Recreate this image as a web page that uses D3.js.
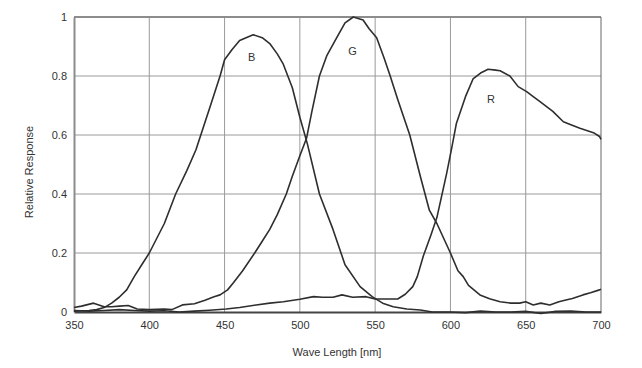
<!DOCTYPE html>
<html>
<head>
<meta charset="utf-8">
<script src="https://cdn.jsdelivr.net/npm/d3@7"></script>
<style>
html,body{margin:0;padding:0;background:#fff;}
svg{display:block;font-family:"Liberation Sans",Arial,sans-serif;}
</style>
</head>
<body>
<svg id="chart" width="642" height="368"></svg>
<script>
// ---- data ----
const xTicks = [350,400,450,500,550,600,650,700];
const yTicks = [0,0.2,0.4,0.6,0.8,1];
const yTickLabels = ["0","0.2","0.4","0.6","0.8","1"];
const xTitle = "Wave Length [nm]";
const yTitle = "Relative Response";

const bWave = [350,360,365,370,375,380,385,390,395,400,410,417.5,425,431,440,447,450,455,460,469,475,480,485,489,495,500,505,513,522,530,540,548,555,562,571,580,588,600,610,620,630,640,650,660,670,680,690,700];
const bVal  = [0.003,0.005,0.008,0.015,0.03,0.05,0.075,0.12,0.16,0.2,0.3,0.4,0.48,0.55,0.69,0.8,0.855,0.89,0.92,0.94,0.93,0.91,0.875,0.84,0.76,0.66,0.57,0.4,0.28,0.16,0.086,0.052,0.03,0.018,0.01,0.007,0.0,0.0,-0.002,0.003,0.0,0.0,0.002,-0.005,0.002,0.003,0.0,0.0];

const gWave = [350,355,363,370,375,380,386,392,400,410,415,422,430,437,443,447,452,456,462,470,475,480,485,491,495,500,504.5,508,513,518,524.5,530,535.5,542,546,551,556,560,565,569,573,580,586,591,600,605,608.5,612,619.6,626,633,640,646,650,655,660,666,672,676,681,688,693,699,700];
const gVal  = [0.015,0.02,0.03,0.018,0.018,0.02,0.022,0.01,0.008,0.01,0.008,0.024,0.028,0.04,0.052,0.058,0.075,0.1,0.14,0.2,0.24,0.28,0.33,0.4,0.46,0.53,0.59,0.68,0.8,0.87,0.93,0.98,1.0,0.99,0.96,0.93,0.86,0.8,0.72,0.66,0.6,0.46,0.345,0.3,0.2,0.14,0.12,0.09,0.058,0.045,0.035,0.03,0.03,0.035,0.024,0.03,0.024,0.035,0.04,0.046,0.058,0.065,0.075,0.077];

const rWave = [350,360,370,380,390,400,410,420,430,440,451,460,471,480,489,500,509,515,522,528,535,544,550,565,570,575,578,582,587,591,597.5,601,604,610,615,620,625,630,633,639.5,645,650.6,655,659.5,668,675,680,686,695,699,700];
const rVal  = [0.005,0.003,0.005,0.008,0.005,0.003,0.004,0.0,0.003,0.006,0.01,0.015,0.024,0.03,0.035,0.043,0.052,0.05,0.05,0.058,0.05,0.052,0.044,0.044,0.06,0.086,0.12,0.19,0.26,0.32,0.47,0.56,0.64,0.73,0.79,0.81,0.823,0.82,0.818,0.8,0.764,0.747,0.73,0.713,0.68,0.645,0.635,0.623,0.608,0.595,0.585];

const curveLabels = ["B","G","R"];
const labelWave = [468,535,627];
const labelVal  = [0.86,0.88,0.72];

// ---- layout ----
const svg = d3.select("#chart");
const x = d3.scaleLinear().domain([350,700]).range([74,601]);
const y = d3.scaleLinear().domain([0,1]).range([312,17]);

// grid
svg.append("g").selectAll("line").data(xTicks.slice(1,-1)).join("line")
  .attr("x1",d=>x(d)).attr("x2",d=>x(d)).attr("y1",y(0)).attr("y2",y(1))
  .attr("stroke","#9a9a9a").attr("stroke-width",1);
svg.append("g").selectAll("line").data(yTicks.slice(1,-1)).join("line")
  .attr("x1",x(350)).attr("x2",x(700)).attr("y1",d=>y(d)).attr("y2",d=>y(d))
  .attr("stroke","#9a9a9a").attr("stroke-width",1);

// frame
svg.append("line").attr("x1",x(350)).attr("x2",x(700)).attr("y1",y(1)).attr("y2",y(1)).attr("stroke","#8c8c8c").attr("stroke-width",2);
svg.append("line").attr("x1",x(700)).attr("x2",x(700)).attr("y1",y(1)).attr("y2",y(0)).attr("stroke","#666").attr("stroke-width",1);

// axes
const xAxis = d3.axisBottom(x).tickValues(xTicks).tickSize(0).tickPadding(9);
const gx = svg.append("g").attr("transform",`translate(0,${y(0)})`).call(xAxis);
gx.select(".domain").attr("stroke","#444").attr("stroke-width",2);
gx.selectAll("text").attr("font-size",11).attr("fill","#333").attr("font-family","Liberation Sans, Arial, sans-serif");

const yAxis = d3.axisLeft(y).tickValues(yTicks).tickFormat((d,i)=>yTickLabels[i]).tickSize(0).tickPadding(7);
const gy = svg.append("g").attr("transform",`translate(${x(350)},0)`).call(yAxis);
gy.select(".domain").attr("stroke","#8c8c8c").attr("stroke-width",2);
gy.selectAll("text").attr("font-size",11).attr("fill","#333").attr("font-family","Liberation Sans, Arial, sans-serif");

// titles
svg.append("text").attr("x",337).attr("y",356).attr("text-anchor","middle")
  .attr("font-size",11).attr("fill","#333").text(xTitle);
svg.append("text").attr("transform","translate(33,172) rotate(-90)").attr("text-anchor","middle")
  .attr("font-size",11).attr("fill","#333").text(yTitle);

// curves
const line = d3.line().x(d=>x(d[0])).y(d=>y(d[1])).curve(d3.curveLinear);
const series = [[bWave,bVal],[gWave,gVal],[rWave,rVal]];
svg.append("g").selectAll("path").data(series).join("path")
  .attr("d",s=>line(d3.zip(s[0],s[1])))
  .attr("fill","none").attr("stroke","#2e2e2e").attr("stroke-width",1.6)
  .attr("stroke-linejoin","round");

// curve labels
svg.append("g").selectAll("text").data(curveLabels).join("text")
  .attr("x",(d,i)=>x(labelWave[i]) ).attr("y",(d,i)=>y(labelVal[i]))
  .attr("text-anchor","middle").attr("dominant-baseline","middle")
  .attr("font-size",11).attr("fill","#333").text(d=>d);
</script>
</body>
</html>
